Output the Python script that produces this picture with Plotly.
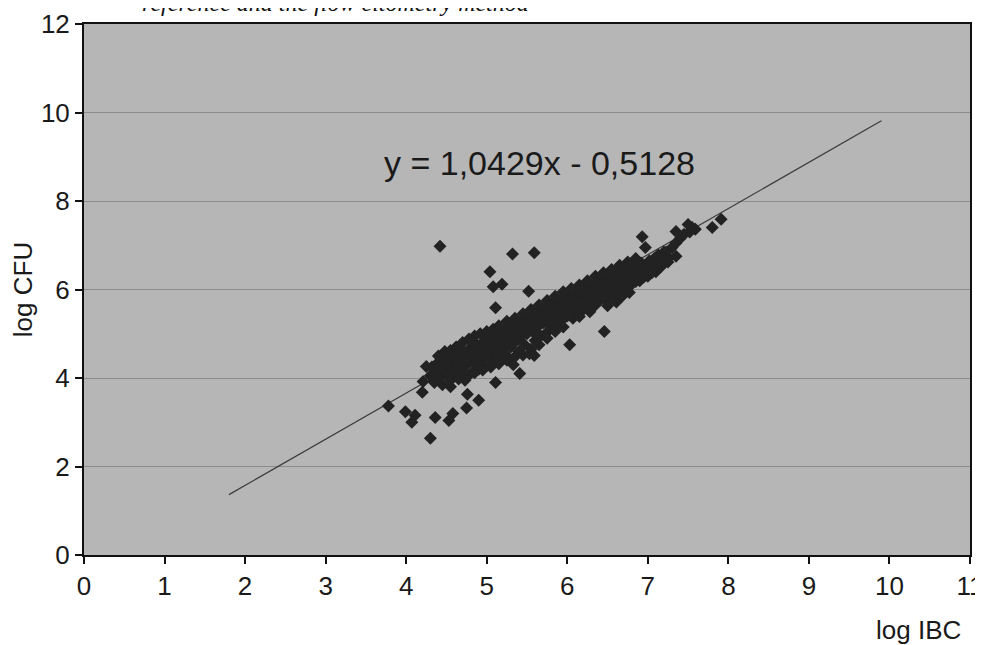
import plotly.graph_objects as go

# Band of points along the regression (log IBC, log CFU)
band_x = [4.30,4.32,4.35,4.38,4.40,4.42,4.45,4.47,4.50,4.52,4.55,4.57,4.58,4.60,4.62,4.63,4.65,4.67,4.68,4.70,
          4.72,4.73,4.75,4.77,4.78,4.80,4.82,4.83,4.85,4.87,4.88,4.90,4.92,4.93,4.95,4.97,4.98,5.00,5.02,5.03,
          5.05,5.07,5.08,5.10,5.12,5.13,5.15,5.17,5.18,5.20,5.22,5.23,5.25,5.27,5.28,5.30,5.32,5.33,5.35,5.37,
          5.38,5.40,5.42,5.43,5.45,5.47,5.48,5.50,5.52,5.53,5.55,5.57,5.58,5.60,5.62,5.63,5.65,5.67,5.68,5.70,
          5.72,5.73,5.75,5.77,5.78,5.80,5.82,5.83,5.85,5.87,5.88,5.90,5.92,5.93,5.95,5.97,5.98,6.00,6.02,6.03,
          6.05,6.07,6.08,6.10,6.12,6.13,6.15,6.17,6.18,6.20,6.22,6.23,6.25,6.27,6.28,6.30,6.32,6.33,6.35,6.37,
          6.38,6.40,6.42,6.43,6.45,6.47,6.48,6.50,6.52,6.53,6.55,6.57,6.58,6.60,6.62,6.63,6.65,6.67,6.68,6.70,
          6.72,6.73,6.75,6.77,6.78,6.80,6.82,6.85,6.87,6.90,6.92,6.95,6.97,7.00,7.02,7.05,7.08,7.10,7.13,7.18,
          7.20,7.25,7.30,7.35,7.40,7.45,7.52,7.55,
          4.36,4.44,4.53,4.61,4.69,4.76,4.84,4.91,4.99,5.06,5.14,5.21,5.29,5.36,5.44,5.51,5.59,5.66,5.74,5.81,
          5.89,5.96,6.04,6.11,6.19,6.26,6.34,6.41,6.49,6.56,6.64,6.71,6.79,6.86,6.94,7.01,7.09,7.16,7.24,
          4.88,4.96,5.04,5.11,5.19,5.26,5.34,5.41,5.49,5.56,5.64,5.71,5.79,5.86,5.94,6.01,6.09,6.16,6.24,6.31,
          6.39,6.46,6.54,6.61,6.69,6.76,6.84,
          4.40,4.48,4.55,4.62,4.70,4.78,4.85,4.92,5.00,5.08,5.15,5.25,5.35,5.45,5.55,5.65,5.75,5.85,5.95,6.05,
          6.15,6.25,6.35,6.45,6.55,6.65,6.75,6.85,
          4.45,4.55,4.65,4.75,4.85,4.95,5.05,5.15,5.25,5.35,5.45,5.55,5.65,5.75,5.85,5.95,6.05,6.15,6.25,6.35,
          6.45,6.55,6.65,6.75,6.85,6.95,7.05,7.15,7.25,7.35]
band_y = [4.05,4.25,3.90,4.15,4.35,4.00,4.20,4.45,4.10,4.30,3.95,4.40,4.20,4.50,4.05,4.30,4.55,4.15,4.40,4.60,
          4.25,3.95,4.50,4.35,4.65,4.10,4.45,4.70,4.30,4.55,4.75,4.20,4.60,4.40,4.80,4.50,4.25,4.70,4.90,4.45,
          4.60,4.85,4.35,4.75,5.00,4.55,4.80,4.40,4.95,4.65,5.05,4.85,4.50,4.95,5.15,4.70,5.00,4.30,5.20,4.85,
          5.05,4.60,5.25,4.95,5.10,4.75,5.35,5.00,5.20,4.55,5.40,5.05,5.30,4.85,5.45,5.15,5.35,4.95,5.55,5.25,
          5.45,5.00,5.60,5.30,5.50,5.15,5.65,5.40,5.58,5.20,5.72,5.45,5.65,5.30,5.80,5.55,5.70,5.40,5.85,5.60,
          5.78,5.35,5.90,5.65,5.82,5.50,5.95,5.72,5.88,5.55,6.00,5.78,5.95,5.60,6.05,5.85,6.00,5.70,6.12,5.90,
          6.05,5.75,6.18,5.95,6.10,5.80,6.22,6.00,6.15,5.85,6.30,6.05,6.20,5.92,6.35,6.10,6.25,6.00,6.42,6.18,
          6.32,6.05,6.48,6.25,6.38,6.12,6.55,6.30,6.45,6.20,6.60,6.40,6.52,6.30,6.65,6.48,6.70,6.40,6.78,6.55,
          6.85,6.70,6.95,7.05,7.15,7.25,7.30,7.40,
          4.28,4.38,4.42,4.45,4.52,4.58,4.62,4.72,4.78,4.82,4.90,4.95,5.02,5.08,5.15,5.18,5.28,5.32,5.42,5.48,
          5.55,5.62,5.70,5.72,5.80,5.88,5.92,6.00,6.06,6.12,6.20,6.26,6.32,6.40,6.45,6.55,6.60,6.68,6.75,
          4.48,4.58,4.65,4.70,4.78,4.85,4.92,5.00,5.06,5.12,5.20,5.28,5.34,5.42,5.50,5.55,5.62,5.70,5.78,5.82,
          5.90,5.98,6.05,6.12,6.18,6.28,6.35,
          4.50,4.60,4.62,4.70,4.80,4.88,4.95,5.00,5.05,5.10,5.18,5.28,5.35,5.45,5.55,5.65,5.75,5.85,5.95,6.02,
          6.10,6.20,6.30,6.38,6.45,6.55,6.62,6.70,
          3.85,3.80,3.98,4.05,4.12,4.18,4.25,4.32,4.40,4.48,4.52,4.65,4.75,4.90,5.05,5.15,5.40,5.50,5.60,5.72,
          5.82,5.92,6.02,6.10,6.18,6.28,6.38,6.50,6.62,6.75]

# Outliers
out_x = [4.42,5.32,5.59,5.04,5.08,5.19,5.52,5.11,6.03,5.59,5.41,5.11,4.20,4.76,4.90,4.75,4.58,4.53,4.36,
         3.99,4.11,4.07,4.30,3.78,4.37,4.25,4.21,7.91,7.80,7.59,7.50,7.35,6.93,6.46,6.15,6.28,6.35,6.50,
         6.61,6.68,6.77,7.15,7.23,6.97,7.02]
out_y = [6.98,6.80,6.83,6.40,6.06,6.12,5.96,5.59,4.75,4.51,4.10,3.90,3.68,3.63,3.50,3.32,3.20,3.04,3.11,
         3.24,3.16,3.00,2.64,3.37,4.29,4.26,3.92,7.59,7.40,7.36,7.47,7.31,7.19,5.05,5.39,5.50,5.65,5.63,
         5.72,5.85,5.93,6.59,6.85,6.95,6.60]

slope = 1.0429
intercept = -0.5128
fit_x = [1.8, 9.9]
fit_y = [slope * v + intercept for v in fit_x]

x_ticks = list(range(0, 12))
y_ticks = list(range(0, 13, 2))

FONT = "Liberation Sans, Arial, sans-serif"

fig = go.Figure()
fig.add_trace(go.Scatter(x=fit_x, y=fit_y, mode="lines",
                         line=dict(color="#3a3a3a", width=1.2), hoverinfo="skip"))
fig.add_trace(go.Scatter(x=band_x + out_x, y=band_y + out_y, mode="markers",
                         marker=dict(symbol="diamond", size=10, color="#222222",
                                     line=dict(width=0))))

# the page body adds an 8px offset; figure is sized so the plot lands at 84..970 x 24..555
fig.update_layout(
    width=975, height=637,
    margin=dict(l=76, r=13, t=16, b=90),
    paper_bgcolor="white", plot_bgcolor="#b6b6b6",
    showlegend=False,
    font=dict(family=FONT, size=26, color="#1a1a1a"),
)
fig.update_xaxes(range=[0, 11], tickvals=x_ticks, ticks="outside", ticklen=7, tickwidth=2,
                 tickcolor="#111", showgrid=False, zeroline=False, automargin=False,
                 showline=True, linecolor="#111", linewidth=2, mirror=True,
                 ticklabeloverflow="allow",
                 tickfont=dict(size=26))
fig.update_yaxes(range=[0, 12], tickvals=y_ticks, ticks="outside", ticklen=7, tickwidth=2,
                 tickcolor="#111", showgrid=True, gridcolor="#8c8c8c", gridwidth=1,
                 zeroline=False, showline=True, linecolor="#111", linewidth=2, mirror=True,
                 automargin=False, ticklabeloverflow="allow",
                 title=dict(text="log CFU", font=dict(size=26), standoff=8),
                 tickfont=dict(size=26))

fig.add_annotation(x=5.66, y=8.86, xref="x", yref="y", text="y = 1,0429x - 0,5128",
                   showarrow=False, font=dict(size=34, color="#1a1a1a"))
fig.add_annotation(x=0.992, y=-0.141, xref="paper", yref="paper", text="log IBC",
                   showarrow=False, xanchor="right", yanchor="middle",
                   font=dict(size=26, color="#1a1a1a"))
fig.add_annotation(x=0.063, y=1.012, xref="paper", yref="paper",
                   text="<i>reference and the flow citometry method</i>",
                   showarrow=False, xanchor="left", yanchor="bottom",
                   font=dict(family="Liberation Serif, Times New Roman, serif", size=24, color="#111"))

fig.write_html("out.html")
